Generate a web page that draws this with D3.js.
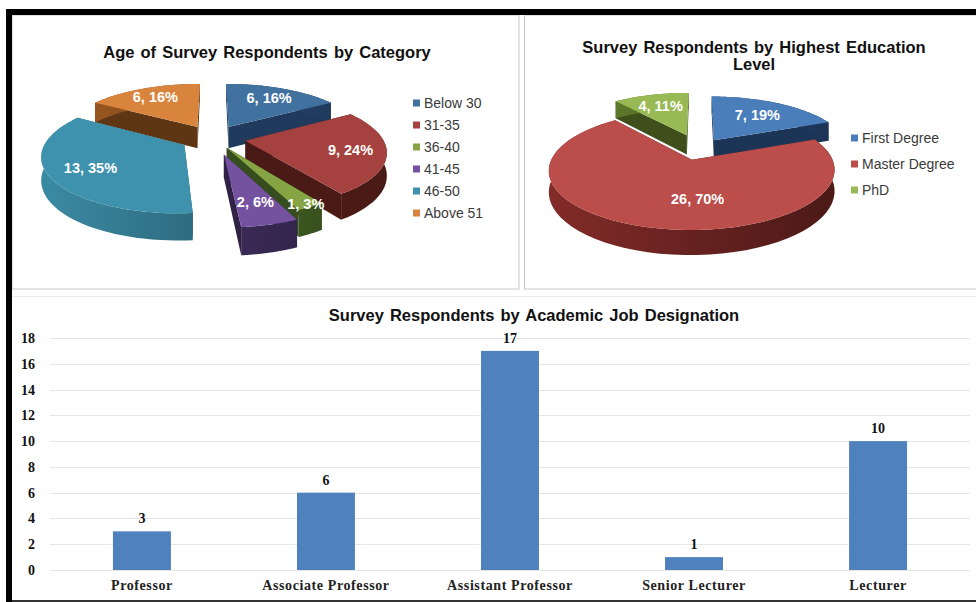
<!DOCTYPE html>
<html>
<head>
<meta charset="utf-8">
<script src="https://cdn.jsdelivr.net/npm/d3@7"></script>
<style>
  html, body { margin: 0; padding: 0; background: #fff; }
  svg { display: block; }
  text { font-family: "Liberation Sans", Arial, sans-serif; }
  .serif { font-family: "Liberation Serif", "Times New Roman", serif; font-weight: bold; }
</style>
</head>
<body>
<svg id="chart" width="976" height="602"></svg>
<script>
// age pie
const ageCategories = ["Below 30", "31-35", "36-40", "41-45", "46-50", "Above 51"];
const ageValues = [6, 9, 1, 2, 13, 6];
const agePercents = [16, 24, 3, 6, 35, 16];
const ageColors = ["#41719f", "#a54240", "#86a443", "#7452a0", "#3f92ad", "#d9843c"];
const ageWalls = ["#1f3a5c", "#4a1a17", "#364e1d", "#2f2245", "#22505f", "#5e3614"];
const ageExplode = [0.24, 0.24, 0.2, 0.3, 0.24, 0.24];
const ageLabelRadius = [0.72, 0.75, 0.95, 0.72, 0.72, 0.75];

// education pie
const eduCategories = ["First Degree", "Master Degree", "PhD"];
const eduValues = [7, 26, 4];
const eduPercents = [19, 70, 11];
const eduColors = ["#4a7ebb", "#bb4d4a", "#98b954"];
const eduWalls = ["#1c3557", "#4e1a18", "#3e4f1c"];
const eduExplode = [0.2, 0.2, 0.28];
const eduLabelRadius = [0.66, 0.6, 0.7];
const eduLabelAngle = [null, 176, null];

// job bars
const jobCategories = ["Professor", "Associate Professor", "Assistant Professor", "Senior Lecturer", "Lecturer"];
const jobValues = [3, 6, 17, 1, 10];
const jobTicks = [0, 2, 4, 6, 8, 10, 12, 14, 16, 18];

const svg = d3.select("#chart");
const defs = svg.append("defs");

// panels first, black frame goes on top later
const panels = svg.append("g");
panels.append("rect").attr("x", 12).attr("y", 15).attr("width", 507).attr("height", 274)
    .attr("fill", "#fff").attr("stroke", "#c8c8c8");
panels.append("rect").attr("x", 524.5).attr("y", 15).attr("width", 460).attr("height", 274)
    .attr("fill", "#fff").attr("stroke", "#c8c8c8");
panels.append("line").attr("x1", 12).attr("x2", 976).attr("y1", 296.5).attr("y2", 296.5)
    .attr("stroke", "#ececec");

function pie3d(opts) {
    const g = svg.append("g");
    const arcs = d3.pie().sort(null).value(d => d)(opts.values);
    const persp = 0.171;

    const project = (X, Y, drop) => {
        // Y is towards the viewer
        const w = 1 - persp * Y;
        return [opts.cx + opts.rx * X / w, opts.cy + opts.ry * Y / w + (drop ? opts.depth / w : 0)];
    };
    const at = (a, r) => [Math.sin(a) * r, -Math.cos(a) * r];
    const outline = d3.line().curve(d3.curveLinearClosed);

    const slices = arcs.map((a, i) => {
        const mid = (a.startAngle + a.endAngle) / 2;
        const [ox, oy] = at(mid, opts.explode[i]);
        return {i, a, mid, ox, oy};
    }).sort((p, q) => p.oy - q.oy);

    slices.forEach(s => {
        const edge = d3.range(0, 61).map(k => s.a.startAngle + (s.a.endAngle - s.a.startAngle) * k / 60);
        const rim = edge.map(t => { const [x, y] = at(t, 1); return [x + s.ox, y + s.oy]; });
        const apex = [s.ox, s.oy];
        const slice = g.append("g");

        // cut faces
        [rim[0], rim[60]].forEach(p => {
            slice.append("path")
                .attr("d", outline([
                    project(apex[0], apex[1]), project(p[0], p[1]),
                    project(p[0], p[1], true), project(apex[0], apex[1], true)
                ]))
                .attr("fill", opts.walls[s.i]);
        });

        // outer wall, shaded left to right
        const gradId = opts.id + "-wall-" + s.i;
        const grad = defs.append("linearGradient").attr("id", gradId)
            .attr("gradientUnits", "userSpaceOnUse")
            .attr("x1", opts.cx - opts.rx * 1.2).attr("x2", opts.cx + opts.rx * 0.9)
            .attr("y1", 0).attr("y2", 0);
        grad.append("stop").attr("offset", 0).attr("stop-color", d3.color(opts.walls[s.i]).brighter(1.5));
        grad.append("stop").attr("offset", 1).attr("stop-color", opts.walls[s.i]);
        slice.append("path")
            .attr("d", outline(rim.map(p => project(p[0], p[1]))
                .concat(rim.slice().reverse().map(p => project(p[0], p[1], true)))))
            .attr("fill", "url(#" + gradId + ")");

        // top face
        slice.append("path")
            .attr("d", outline([project(apex[0], apex[1])].concat(rim.map(p => project(p[0], p[1])))))
            .attr("fill", opts.colors[s.i]);
    });

    // labels stay above every slice
    slices.forEach(s => {
        const angle = opts.labelAngle && opts.labelAngle[s.i] != null ? opts.labelAngle[s.i] * Math.PI / 180 : s.mid;
        const [lx, ly] = at(angle, opts.labelRadius[s.i]);
        const pos = project(s.ox + lx, s.oy + ly);
        g.append("text")
            .attr("x", pos[0]).attr("y", pos[1]).attr("dy", "0.35em")
            .attr("text-anchor", "middle")
            .attr("fill", "#fff").attr("font-weight", "bold").attr("font-size", 14.5)
            .text(opts.values[s.i] + ", " + opts.percents[s.i] + "%");
    });

    // legend
    const legendY = d3.scalePoint().domain(opts.categories).range(opts.legendRange);
    const legend = g.append("g").selectAll("g").data(opts.categories).join("g")
        .attr("transform", d => "translate(" + opts.legendX + "," + legendY(d) + ")");
    legend.append("rect").attr("x", 0).attr("y", -3.5).attr("width", 7).attr("height", 7)
        .attr("fill", (d, i) => opts.colors[i]);
    legend.append("text").attr("x", 11).attr("dy", "0.35em")
        .attr("font-size", 14).attr("fill", "#3a3a3a")
        .text(d => d);
}

pie3d({
    id: "age", values: ageValues, percents: agePercents, categories: ageCategories,
    colors: ageColors, walls: ageWalls, explode: ageExplode, labelRadius: ageLabelRadius,
    cx: 213, cy: 138, rx: 137, ry: 54, depth: 22,
    legendX: 413, legendRange: [103, 213]
});
pie3d({
    id: "edu", values: eduValues, percents: eduPercents, categories: eduCategories,
    colors: eduColors, walls: eduWalls, explode: eduExplode, labelRadius: eduLabelRadius, labelAngle: eduLabelAngle,
    cx: 699, cy: 149, rx: 136, ry: 54, depth: 20,
    legendX: 851, legendRange: [138, 190]
});

// titles
const title = (x, y, s) => svg.append("text")
    .attr("x", x).attr("y", y).attr("text-anchor", "middle")
    .attr("font-weight", "bold").attr("font-size", 16.5).attr("fill", "#111")
    .attr("word-spacing", 1.5)
    .text(s);
title(267, 58, "Age of Survey Respondents by Category");
title(754, 53, "Survey Respondents by Highest Education");
title(754, 70, "Level");
title(534, 321, "Survey Respondents by Academic Job Designation");

// bar chart
const x = d3.scaleBand().domain(jobCategories).range([50, 970]).paddingInner(0.685).paddingOuter(0.342);
const y = d3.scaleLinear().domain([0, 18]).range([570, 338]);

svg.append("g").selectAll("line").data(jobTicks).join("line")
    .attr("x1", 50).attr("x2", 970)
    .attr("y1", d => Math.round(y(d)) + 0.5).attr("y2", d => Math.round(y(d)) + 0.5)
    .attr("stroke", "#e6e6e6");

const yAxis = svg.append("g").attr("transform", "translate(35,0)")
    .call(d3.axisLeft(y).tickValues(jobTicks).tickSize(0).tickPadding(0));
yAxis.select(".domain").remove();
yAxis.selectAll("text").attr("class", "serif").attr("font-size", 14).attr("fill", "#111");

svg.append("g").selectAll("rect").data(jobValues).join("rect")
    .attr("x", (d, i) => x(jobCategories[i]))
    .attr("y", d => y(d))
    .attr("width", x.bandwidth())
    .attr("height", d => y(0) - y(d))
    .attr("fill", "#4f81bd");

svg.append("g").selectAll("text").data(jobValues).join("text")
    .attr("class", "serif")
    .attr("x", (d, i) => x(jobCategories[i]) + x.bandwidth() / 2)
    .attr("y", d => y(d) - 8)
    .attr("text-anchor", "middle").attr("font-size", 14).attr("fill", "#111")
    .text(d => d);

const xAxis = svg.append("g").attr("transform", "translate(0,570)")
    .call(d3.axisBottom(x).tickSize(0).tickPadding(10));
xAxis.select(".domain").remove();
xAxis.selectAll("text").attr("class", "serif").attr("font-size", 14).attr("fill", "#222").attr("letter-spacing", 0.6);

// black frame
const frame = svg.append("g");
frame.append("rect").attr("x", 6).attr("y", 9).attr("width", 970).attr("height", 6).attr("fill", "#000");
frame.append("rect").attr("x", 6).attr("y", 9).attr("width", 6).attr("height", 593).attr("fill", "#000");
frame.append("rect").attr("x", 12).attr("y", 600).attr("width", 964).attr("height", 2).attr("fill", "#333");
</script>
</body>
</html>
